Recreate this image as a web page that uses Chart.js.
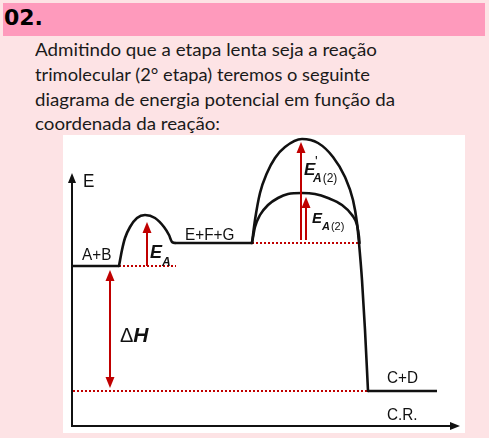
<!DOCTYPE html>
<html><head><meta charset="utf-8">
<script src="https://cdn.jsdelivr.net/npm/chart.js@4/dist/chart.umd.min.js"></script>
<style>
html,body{margin:0;padding:0;}
body{width:489px;height:438px;background:#fde3e5;position:relative;overflow:hidden;}
#hdr{position:absolute;left:3px;top:3px;width:482px;height:33px;background:#fe9abc;}
#num{position:absolute;left:4px;top:5px;font:bold 22px "DejaVu Sans";color:#000;line-height:26px;}
.ln{position:absolute;left:35px;font:17.5px Lato;color:#1a1a1a;white-space:nowrap;transform-origin:0 0;line-height:20px;}
#box{position:absolute;left:63px;top:135px;width:402px;height:298px;background:#fff;}
</style></head>
<body>
<div id="hdr"></div>
<div id="num">02.</div>
<div class="ln" data-w="342" style="top:40px">Admitindo que a etapa lenta seja a reação</div>
<div class="ln" data-w="335" style="top:65px">trimolecular (2° etapa) teremos o seguinte</div>
<div class="ln" data-w="360" style="top:89.5px">diagrama de energia potencial em função da</div>
<div class="ln" data-w="185" style="top:113.5px">coordenada da reação:</div>
<div id="box"><canvas id="c" width="402" height="298"></canvas></div>
<script>
// ---- data (reaction coordinate, energy) ----
const levelNames  = ['A+B', 'E+F+G', 'C+D'];
const levelEnergy = [160, 183, 35];
const levelStart  = [0, 103, 296];
const levelEnd    = [47, 180, 365];

const hump1X = [47, 50, 53, 58, 65, 73, 83, 92, 97, 100, 103];
const hump1Y = [160, 176, 188, 199, 208, 211, 208, 199, 191, 184, 183];

const slowHumpX = [180, 183, 188, 195, 203, 213, 230, 246, 261, 273, 281, 285, 287, 290, 293, 296];
const slowHumpY = [183, 206, 233, 253, 268, 279, 287, 283, 269, 249, 226, 203, 183, 146, 96, 35];

const catHumpX = [180, 183, 188, 196, 206, 216, 230, 243, 256, 270, 280, 285, 287, 287.5];
const catHumpY = [183, 199, 211, 221, 228, 232, 233, 232, 228, 221, 211, 201, 189, 183];

// reference (dotted) lines: energy, from, to
const refEnergy = [160, 183, 35];
const refFrom   = [47, 180, 1];
const refTo     = [104, 288, 296];

// energy arrows: reaction coordinate, base energy, tip energy
const arrowNames = ['EA', "E'A(2)", 'EA(2)', 'ΔH'];
const arrowX    = [75, 229, 234, 38];
const arrowFrom = [160, 186, 186, 156];
const arrowTo   = [204, 284, 229, 38];

const axisXEnd = 388, axisYEnd = 253;

// ---- build datasets ----
const BLACK = '#111', RED = '#c00000';
const pts = (xs, ys) => xs.map((x, i) => ({x, y: ys[i]}));
const datasets = [];
levelNames.forEach((n, i) => datasets.push({
  label: n, data: [{x: levelStart[i], y: levelEnergy[i]}, {x: levelEnd[i], y: levelEnergy[i]}],
  borderColor: BLACK, borderWidth: 2.6, tension: 0, pointRadius: 0, showLine: true}));
[[hump1X, hump1Y], [slowHumpX, slowHumpY], [catHumpX, catHumpY]].forEach(([xs, ys], i) => datasets.push({
  label: 'hump' + i, data: pts(xs, ys), borderColor: BLACK, borderWidth: 2.6,
  cubicInterpolationMode: 'monotone', tension: 0.4, pointRadius: 0, showLine: true, borderCapStyle: 'round'}));
refEnergy.forEach((e, i) => datasets.push({
  label: 'ref' + i, data: [{x: refFrom[i], y: e}, {x: refTo[i], y: e}],
  borderColor: RED, borderWidth: 2, borderDash: [2, 2], tension: 0, pointRadius: 0, showLine: true}));

function arrowHead(ctx, x, y, dir, w, l) { // dir: -1 up, 1 down, 'r' right
  ctx.beginPath();
  if (dir === 'r') { ctx.moveTo(x, y); ctx.lineTo(x - l, y - w / 2); ctx.lineTo(x - l, y + w / 2); }
  else { ctx.moveTo(x, y); ctx.lineTo(x - w / 2, y - dir * l); ctx.lineTo(x + w / 2, y - dir * l); }
  ctx.closePath(); ctx.fill();
}

const textLabels = [
  {t: 'E', x: 11, y: 244, size: 19},
  {t: 'A+B', x: 10, y: 171, size: 17},
  {t: 'E+F+G', x: 113, y: 191, size: 17},
  {t: 'C+D', x: 315, y: 48, size: 17},
  {t: 'C.R.', x: 315, y: 10.5, size: 17}
];

const drawPlugin = {
  id: 'diagram',
  afterDatasetsDraw(chart) {
    const {ctx, scales: {x: sx, y: sy}} = chart;
    const X = v => sx.getPixelForValue(v), Y = v => sy.getPixelForValue(v);
    ctx.save();
    // axes
    ctx.strokeStyle = BLACK; ctx.fillStyle = BLACK; ctx.lineWidth = 2;
    ctx.beginPath();
    ctx.moveTo(X(0), Y(axisYEnd) + 6); ctx.lineTo(X(0), Y(0));
    ctx.lineTo(X(axisXEnd) - 6, Y(0));
    ctx.stroke();
    arrowHead(ctx, X(0), Y(axisYEnd), -1, 8, 10);
    arrowHead(ctx, X(axisXEnd), Y(0), 'r', 8, 10);
    // energy arrows
    ctx.strokeStyle = RED; ctx.fillStyle = RED; ctx.lineWidth = 2;
    arrowX.forEach((ax, i) => {
      const px = X(ax), y0 = Y(arrowFrom[i]), y1 = Y(arrowTo[i]);
      const dir = y1 < y0 ? -1 : 1;
      const dbl = arrowNames[i] === 'ΔH';
      ctx.beginPath();
      ctx.moveTo(px, dbl ? y0 + 9 : y0); ctx.lineTo(px, y1 - dir * 9); ctx.stroke();
      arrowHead(ctx, px, y1, dir, 9, 11);
      if (dbl) arrowHead(ctx, px, y0, -dir, 9, 11);
    });
    // text labels
    ctx.fillStyle = BLACK; ctx.textBaseline = 'middle'; ctx.textAlign = 'left';
    textLabels.forEach(l => {
      ctx.save();
      ctx.translate(X(l.x), Y(l.y)); ctx.scale(0.9, 1);
      ctx.font = l.size + 'px "Liberation Sans"';
      ctx.fillText(l.t, 0, 0);
      ctx.restore();
    });
    ctx.textBaseline = 'alphabetic';
    const bi = s => 'italic bold ' + s + 'px "Liberation Sans"';
    const rg = s => s + 'px "Liberation Sans"';
    // E_A
    ctx.font = bi(18); ctx.fillText('E', X(78), Y(168));
    ctx.font = bi(12); ctx.fillText('A', X(90), Y(160));
    // E'_A(2)
    ctx.font = bi(17); ctx.fillText('E', X(232), Y(251));
    ctx.font = rg(14); ctx.fillText("'", X(243), Y(260));
    ctx.font = bi(12); ctx.fillText('A', X(241), Y(244));
    let w = ctx.measureText('A').width;
    ctx.font = rg(12); ctx.fillText('(2)', X(241) + w + 1, Y(244));
    // E_A(2)
    ctx.font = bi(15); ctx.fillText('E', X(240), Y(203));
    ctx.font = bi(11); ctx.fillText('A', X(250), Y(196));
    w = ctx.measureText('A').width;
    ctx.font = rg(11); ctx.fillText('(2)', X(250) + w + 1, Y(196));
    // ΔH
    ctx.font = rg(20); ctx.fillText('Δ', X(48), Y(84));
    w = ctx.measureText('Δ').width;
    ctx.font = bi(21); ctx.fillText('H', X(48) + w, Y(84));
    ctx.restore();
  }
};

new Chart(document.getElementById('c'), {
  type: 'scatter',
  data: {datasets},
  options: {
    responsive: false, animation: false,
    layout: {padding: {left: 9, right: 5, top: 1, bottom: 7}},
    scales: {
      x: {type: 'linear', min: 0, max: 388, display: false},
      y: {type: 'linear', min: 0, max: 290, display: false}
    },
    plugins: {legend: {display: false}, tooltip: {enabled: false}}
  },
  plugins: [drawPlugin]
});

// fit header text lines to the reference widths
document.fonts.ready.then(() => {
  document.querySelectorAll('.ln').forEach(el => {
    const w = el.getBoundingClientRect().width;
    el.style.transform = 'scaleX(' + (+el.dataset.w / w) + ')';
  });
});
</script>
</body></html>
